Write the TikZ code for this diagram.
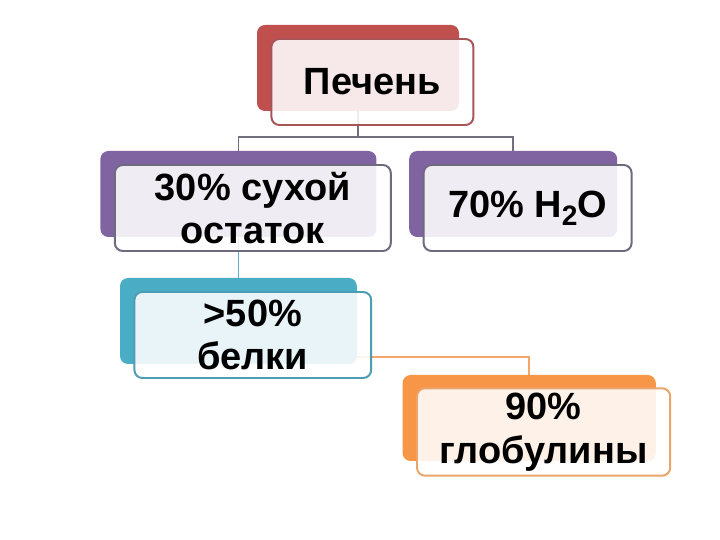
\documentclass[tikz,border=0pt]{standalone}
\usepackage{fontspec}
\setmainfont{Liberation Sans}
\usetikzlibrary{backgrounds}
\definecolor{liverred}{HTML}{C0504D}
\definecolor{liverline}{HTML}{A8555A}
\definecolor{drypurple}{HTML}{8064A2}
\definecolor{dryline}{HTML}{6E6A80}
\definecolor{protblue}{HTML}{4BACC6}
\definecolor{protline}{HTML}{4F9DB5}
\definecolor{globorange}{HTML}{F79646}
\definecolor{globline}{HTML}{E9A56B}
\definecolor{forkgray}{HTML}{6F6F80}
\definecolor{linkblue}{HTML}{5FAFC8}
\definecolor{linkorange}{HTML}{F4A66A}
\begin{document}
\begin{tikzpicture}[
		back/.style={fill=#1, rounded corners=0.2cm, minimum height=2.15cm},
		front/.style={draw=#1, line width=1.4pt, fill=white, fill opacity=0.88, text opacity=1,
			rounded corners=0.2cm, minimum height=2.15cm, shift={(0.36,-0.35)}, align=center,
			font=\bfseries\fontsize{27}{31}\selectfont},
		link/.style={draw=#1, line width=1pt}
	]
		% back boxes
		\node[back=liverred, minimum width=5.05cm] (liverbg) at (8.95,11.8) {};
		\node[back=drypurple, minimum width=6.9cm] (drybg) at (5.96,8.65) {};
		\node[back=drypurple, minimum width=5.2cm] (waterbg) at (12.83,8.65) {};
		\node[back=protblue, minimum width=5.92cm] (proteinbg) at (5.96,5.475) {};
		\node[back=globorange, minimum width=6.33cm] (globbg) at (13.23,3.05) {};
		% front boxes
		\node[front=liverline, minimum width=5.05cm] (liver) at (liverbg) {Печень};
		\node[front=dryline, minimum width=6.9cm] (dry) at (drybg) {30\% сухой\\остаток};
		\node[front=dryline, minimum width=5.2cm] (water) at (waterbg) {70\% H\raisebox{-0.2cm}{\fontsize{20}{20}\selectfont 2}O};
		\node[front=protline, minimum width=5.92cm] (protein) at (proteinbg) {>50\%\\белки};
		\node[front=globline, minimum width=6.33cm] (glob) at (globbg) {90\%\\глобулины};
		% connectors
		\coordinate (fork) at (8.95,10.075);
		\coordinate (bend) at (5.96,4.575);
		\begin{pgfonlayer}{background}
			\fill[white] (0,0) rectangle (18,13.5);
			\draw[link=forkgray] (liverbg) -- (fork);
			\draw[link=forkgray] (drybg.north) |- (fork) -| (waterbg.north);
			\draw[link=linkblue] (drybg) -- (proteinbg);
			\draw[link=linkorange] (proteinbg) -- (bend) -| (globbg.north);
		\end{pgfonlayer}
		\useasboundingbox (0,0) rectangle (18,13.5);
	\end{tikzpicture}
\end{document}
